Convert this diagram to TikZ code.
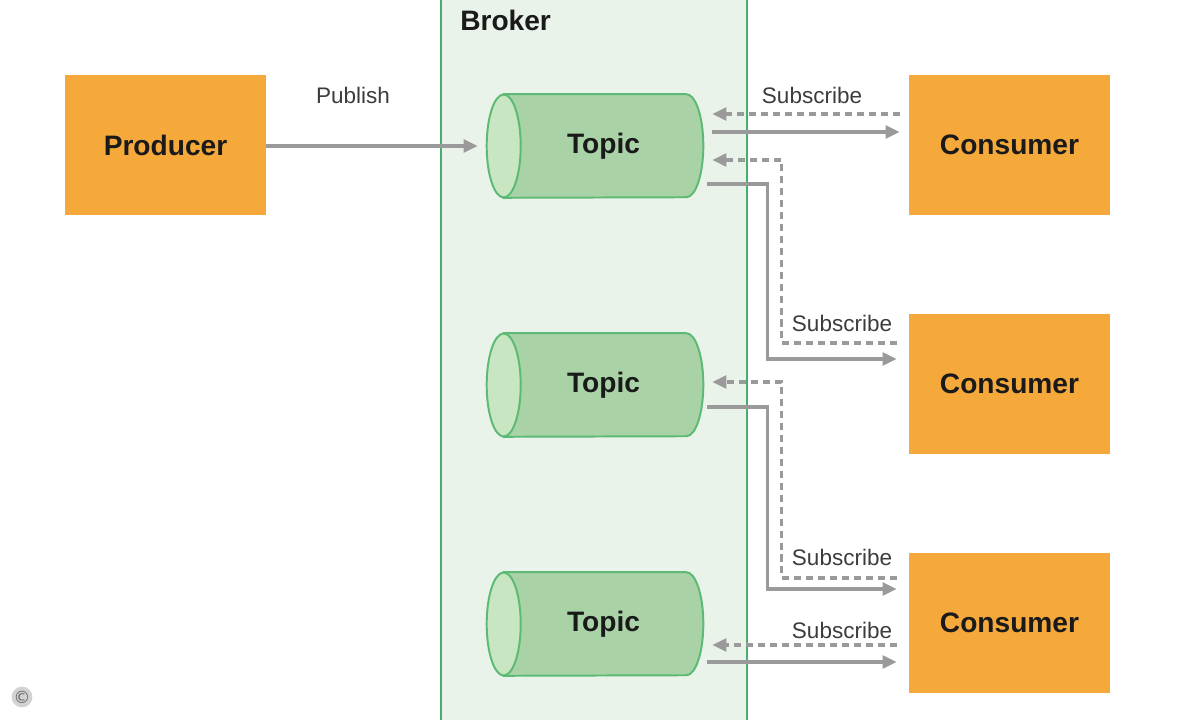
\documentclass[tikz,border=0pt]{standalone}
\usepackage{fontspec}
\setmainfont{Liberation Sans}
\newfontfamily\symfont{DejaVu Sans}
\usetikzlibrary{arrows.meta,calc}
\definecolor{orng}{RGB}{246,169,59}
\definecolor{brokerfill}{RGB}{234,243,233}
\definecolor{brokerline}{RGB}{69,176,108}
\definecolor{cylbody}{RGB}{169,211,166}
\definecolor{cylend}{RGB}{200,230,194}
\definecolor{cylline}{RGB}{92,186,116}
\definecolor{arrowgray}{RGB}{154,154,154}
\definecolor{txt}{RGB}{26,26,26}
\pgfdeclarelayer{background}
\pgfdeclarelayer{bottom}
\pgfsetlayers{bottom,background,main}
\tikzset{
  box/.style={fill=orng, minimum width=5.025cm, minimum height=3.5cm, inner sep=0pt,
    font=\fontsize{20}{24}\selectfont\bfseries, text=txt},
  topicnode/.style={minimum width=4.975cm, minimum height=2.575cm, inner sep=0pt,
    font=\fontsize{20}{24}\selectfont\bfseries, text=txt},
  lbl/.style={font=\fontsize{16}{19}\selectfont, text=txt!85, inner sep=0pt},
  pub/.style={draw=arrowgray, line width=2.4pt, -{Triangle[length=10pt,width=9pt]}},
  sub/.style={draw=arrowgray, line width=2.4pt, dash pattern=on 5pt off 3.5pt, -{Triangle[length=10pt,width=9pt]}},
  cylshape/.style={draw=cylline, line width=1.4pt, fill=cylbody},
  cylcap/.style={draw=cylline, line width=1.4pt, fill=cylend},
}
\begin{document}
\begin{tikzpicture}[x=0.025cm, y=-0.025cm]
\useasboundingbox (0,0) rectangle (1200,720);
% broker
\begin{pgfonlayer}{bottom}
\node[draw=brokerline, line width=2pt, fill=brokerfill, minimum width=7.65cm, minimum height=18.5cm, inner sep=0pt] (broker) at (594,360) {};
\end{pgfonlayer}
\node[font=\fontsize{20}{24}\selectfont\bfseries, text=txt, anchor=west, inner sep=0pt] (brokerlbl) at (460,20) {Broker};
% producer & consumers
\node[box] (producer) at (165.5,145) {Producer};
\node[box] (c1) at (1009.5,145) {Consumer};
\node[box] (c2) at (1009.5,384) {Consumer};
\node[box] (c3) at (1009.5,623) {Consumer};
% topics
\node[topicnode] (t1) at (603.5,146) {Topic};
\node[topicnode] (t2) at (603.5,385) {Topic};
\node[topicnode] (t3) at (603.5,624) {Topic};
\begin{pgfonlayer}{background}
\foreach \t in {t1,t2,t3}{
  \path[cylshape] (\t.north west) -- ($(\t.north east)+(-17,0)$)
    arc[start angle=90, end angle=-90, x radius=0.425cm, y radius=1.2875cm]
    -- (\t.south west) -- cycle;
  \path[cylcap] (\t.west) ellipse [x radius=0.425cm, y radius=1.2875cm];
}
\end{pgfonlayer}
% labels
\node[lbl] (publbl) at (353,95) {Publish};
\node[lbl] (s1) at (812,95) {Subscribe};
\node[lbl] (s2) at (842,323) {Subscribe};
\node[lbl] (s3) at (842,557) {Subscribe};
\node[lbl] (s4) at (842,630) {Subscribe};
% connectors
\draw[pub] (producer.east |- t1.center) -- ($(t1.west)+(-26,0)$);
\draw[sub] ($(c1.west)+(-9,-31)$) -- ($(t1.east)+(9,-32)$);
\draw[pub] ($(t1.east)+(9,-14)$) -- ($(c1.west)+(-9,-13)$);
\draw[sub] ($(c2.west)+(-12,-41)$) -- ++(-115,0) |- ($(t1.east)+(9,14)$);
\draw[pub] ($(t1.east)+(4,38)$) -- ++(60,0) |- ($(c2.west)+(-12,-25)$);
\draw[sub] ($(c3.west)+(-12,-45)$) -- ++(-115,0) |- ($(t2.east)+(9,-3)$);
\draw[pub] ($(t2.east)+(4,22)$) -- ++(60,0) |- ($(c3.west)+(-12,-34)$);
\draw[sub] ($(c3.west)+(-12,22)$) -- ($(t3.east)+(9,21)$);
\draw[pub] ($(t3.east)+(4,38)$) -- ($(c3.west)+(-12,39)$);
% copyright
\node[circle, fill=gray!35, minimum size=0.5cm, inner sep=0pt, font=\symfont\fontsize{12}{12}\selectfont, text=gray!80!black] (copy) at (22,697) {©};
\end{tikzpicture}
\end{document}
